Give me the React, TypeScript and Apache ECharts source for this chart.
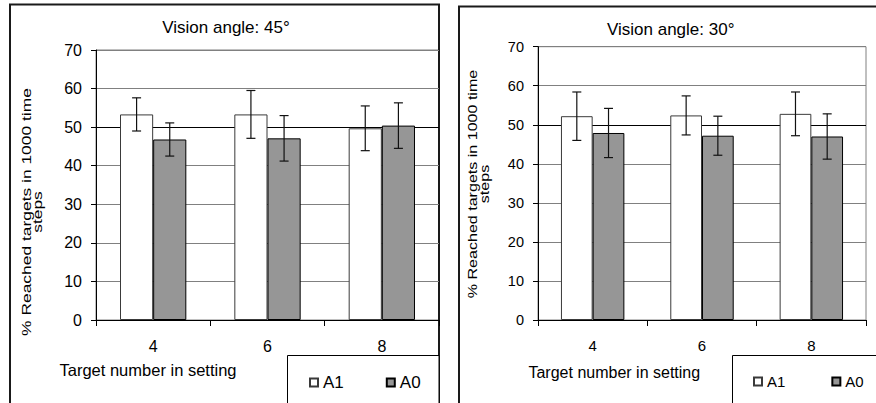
import React, { useEffect, useRef } from 'react';
import * as echarts from 'echarts';

// ---- data ----
const categories = ['4', '6', '8'];
const seriesNames = ['A1', 'A0'];
const yMin = 0;
const yMax = 70;
const yStep = 10;
const panelTitles = ['Vision angle: 45°', 'Vision angle: 30°'];
const xTitle = 'Target number in setting';
const yTitle = '% Reached targets in 1000 time\nsteps';

// Vision angle 45°
const a1Angle45 = [53.3, 53.3, 49.7];
const a1Err45 = [4.3, 6.2, 5.8];
const a0Angle45 = [46.8, 47.1, 50.4];
const a0Err45 = [4.3, 5.9, 5.9];
// Vision angle 30°
const a1Angle30 = [52.2, 52.4, 52.8];
const a1Err30 = [6.2, 5.0, 5.6];
const a0Angle30 = [47.9, 47.2, 47.0];
const a0Err30 = [6.3, 5.0, 5.8];

const FONT = '"Liberation Sans", Arial, sans-serif';
const CAT_GAP = 0.42;
const GRID_GRAY = '#808080';
const splitColors = [GRID_GRAY, GRID_GRAY, GRID_GRAY, GRID_GRAY, GRID_GRAY, '#000000', GRID_GRAY, GRID_GRAY];

const barStyleA1 = { color: '#ffffff', borderColor: '#3a3a3a', borderWidth: 1 };
const barStyleA0 = { color: '#969696', borderColor: '#000000', borderWidth: 1 };

function makeErr(vals: number[], errs: number[], side: number, idx: number) {
  return {
    type: 'custom',
    name: 'err' + idx + side,
    xAxisIndex: idx,
    yAxisIndex: idx,
    z: 5,
    silent: true,
    data: vals.map((v, i) => [i, v, errs[i]]),
    encode: { x: 0, y: 1 },
    renderItem: (params: any, api: any) => {
      const i = api.value(0);
      const v = api.value(1);
      const e = api.value(2);
      const band = api.size([1, 0])[0];
      const bw = (band * (1 - CAT_GAP)) / 2;
      const c = api.coord([i, v]);
      const x = c[0] + (side * bw) / 2;
      const yt = api.coord([i, v + e])[1];
      const yb = api.coord([i, v - e])[1];
      const cap = 4.5;
      const style = { stroke: '#111111', lineWidth: 1.2 };
      return {
        type: 'group',
        children: [
          { type: 'line', shape: { x1: x, y1: yt, x2: x, y2: yb }, style },
          { type: 'line', shape: { x1: x - cap, y1: yt, x2: x + cap, y2: yt }, style },
          { type: 'line', shape: { x1: x - cap, y1: yb, x2: x + cap, y2: yb }, style },
        ],
      };
    },
  };
}

function makeAxes(idx: number, tickFont: number, catFont: number) {
  const xAxis = {
    type: 'category',
    gridIndex: idx,
    data: categories,
    boundaryGap: true,
    axisLine: { show: true, lineStyle: { color: '#000', width: 1 } },
    axisTick: { show: true, length: 6, lineStyle: { color: '#000', width: 1 } },
    axisLabel: { color: '#000', fontSize: catFont, fontFamily: FONT, margin: 18 },
    splitLine: { show: false },
  };
  const yAxis = {
    type: 'value',
    gridIndex: idx,
    min: yMin,
    max: yMax,
    interval: yStep,
    axisLine: { show: true, lineStyle: { color: '#000', width: 1 } },
    axisTick: { show: true, length: 5, lineStyle: { color: '#000', width: 1 } },
    axisLabel: { color: '#000', fontSize: tickFont, fontFamily: FONT, margin: 14 },
    splitLine: { show: true, lineStyle: { color: splitColors, width: 1 } },
  };
  return { xAxis, yAxis };
}

export default function App() {
  const ref = useRef<HTMLDivElement>(null);
  useEffect(() => {
    document.body.style.margin = '0';
    if (!ref.current) return;
    const chart = echarts.init(ref.current, null, { renderer: 'svg' });
    const left = makeAxes(0, 16, 16);
    const right = makeAxes(1, 14.5, 15);
    const option = {
      animation: false,
      backgroundColor: '#ffffff',
      grid: [
        { left: 96, top: 50, width: 343, height: 270, show: true, borderColor: GRID_GRAY, borderWidth: 1, backgroundColor: 'transparent' },
        { left: 538, top: 46.7, width: 328, height: 273.3, show: true, borderColor: GRID_GRAY, borderWidth: 1, backgroundColor: 'transparent' },
      ],
      xAxis: [left.xAxis, right.xAxis],
      yAxis: [left.yAxis, right.yAxis],
      legend: [
        {
          data: seriesNames, left: 309, top: 374, orient: 'horizontal', itemGap: 42, itemWidth: 8, itemHeight: 8, icon: 'rect', padding: 0, z: 10,
          textStyle: { color: '#000', fontSize: 17, fontFamily: FONT },
        },
        {
          data: seriesNames, left: 753, top: 374, orient: 'horizontal', itemGap: 46, itemWidth: 8, itemHeight: 8, icon: 'rect', padding: 0, z: 10,
          textStyle: { color: '#000', fontSize: 15, fontFamily: FONT },
        },
      ],
      graphic: [
        { type: 'rect', z: 0, silent: true, shape: { x: 10, y: 4.5, width: 429, height: 460 }, style: { fill: 'none', stroke: '#1a1a1a', lineWidth: 2 } },
        { type: 'rect', z: 0, silent: true, shape: { x: 459, y: 6.5, width: 480, height: 460 }, style: { fill: 'none', stroke: '#1a1a1a', lineWidth: 2 } },
        { type: 'rect', z: 1, silent: true, shape: { x: 287.5, y: 355.5, width: 151.5, height: 100 }, style: { fill: '#ffffff', stroke: '#000', lineWidth: 1 } },
        { type: 'rect', z: 1, silent: true, shape: { x: 732.5, y: 355.5, width: 200, height: 100 }, style: { fill: '#ffffff', stroke: '#000', lineWidth: 1 } },
        { type: 'text', x: 226, y: 27.5, style: { text: panelTitles[0], font: '17px ' + FONT, fill: '#000', align: 'center', verticalAlign: 'middle' } },
        { type: 'text', x: 670.7, y: 29.5, style: { text: panelTitles[1], font: '17px ' + FONT, fill: '#000', align: 'center', verticalAlign: 'middle' } },
        { type: 'text', x: 148, y: 370, style: { text: xTitle, font: '16.5px ' + FONT, fill: '#000', align: 'center', verticalAlign: 'middle' } },
        { type: 'text', x: 614.3, y: 372.3, style: { text: xTitle, font: '16px ' + FONT, fill: '#000', align: 'center', verticalAlign: 'middle' } },
        { type: 'text', x: 31.5, y: 212, rotation: Math.PI / 2, scaleX: 1.29, style: { text: yTitle, font: '13.5px ' + FONT, fill: '#000', align: 'center', verticalAlign: 'middle', lineHeight: 11.5 } },
        { type: 'text', x: 478, y: 184, rotation: Math.PI / 2, scaleX: 1.19, style: { text: yTitle, font: '13.5px ' + FONT, fill: '#000', align: 'center', verticalAlign: 'middle', lineHeight: 12 } },
      ],
      series: [
        { type: 'bar', name: 'A1', xAxisIndex: 0, yAxisIndex: 0, data: a1Angle45, barGap: '0%', barCategoryGap: '42%', itemStyle: barStyleA1 },
        { type: 'bar', name: 'A0', xAxisIndex: 0, yAxisIndex: 0, data: a0Angle45, barGap: '0%', barCategoryGap: '42%', itemStyle: barStyleA0 },
        { type: 'bar', name: 'A1', xAxisIndex: 1, yAxisIndex: 1, data: a1Angle30, barGap: '0%', barCategoryGap: '42%', itemStyle: barStyleA1 },
        { type: 'bar', name: 'A0', xAxisIndex: 1, yAxisIndex: 1, data: a0Angle30, barGap: '0%', barCategoryGap: '42%', itemStyle: barStyleA0 },
        makeErr(a1Angle45, a1Err45, -1, 0),
        makeErr(a0Angle45, a0Err45, 1, 0),
        makeErr(a1Angle30, a1Err30, -1, 1),
        makeErr(a0Angle30, a0Err30, 1, 1),
      ],
    };
    chart.setOption(option as any);
    return () => chart.dispose();
  }, []);
  return <div ref={ref} style={{ width: 876, height: 403 }} />;
}
